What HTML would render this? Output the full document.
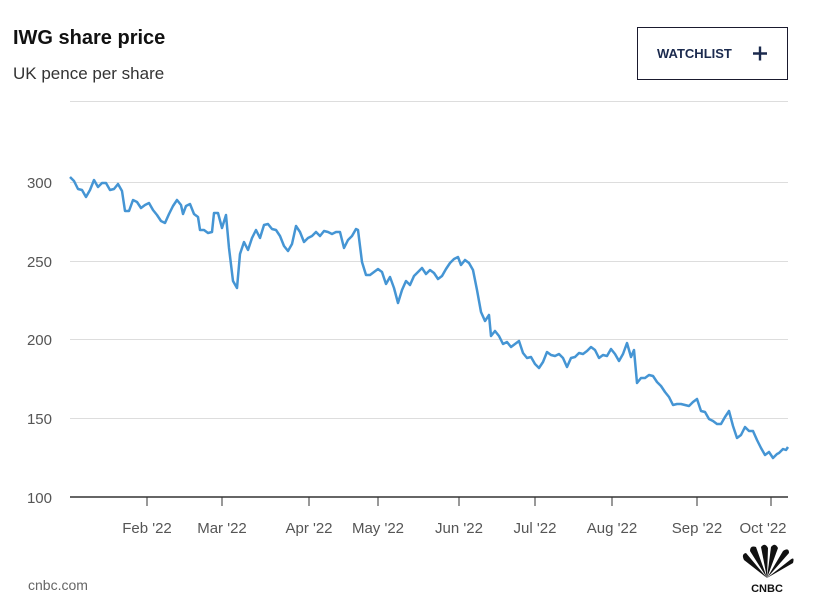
<!DOCTYPE html>
<html><head><style>
body{margin:0;background:#fff;font-family:"Liberation Sans",sans-serif;}
svg{display:block}
</style></head><body>
<svg width="813" height="615" viewBox="0 0 813 615" xmlns="http://www.w3.org/2000/svg">
<text x="13" y="44" font-size="20" font-weight="bold" fill="#111">IWG share price</text>
<text x="13" y="79" font-size="17" fill="#333">UK pence per share</text>
<rect x="637.5" y="27.5" width="150" height="52" fill="#fff" stroke="#1a1a2e" stroke-width="1"/>
<text x="657" y="58" font-size="13" font-weight="bold" fill="#1b2a4e">WATCHLIST</text>
<path d="M753 53.5h14M760 46.5v14" stroke="#1b2a4e" stroke-width="2.4"/>
<line x1="70" y1="101.5" x2="788" y2="101.5" stroke="#ddd"/>
<g stroke="#ddd" stroke-width="1">
<line x1="70" y1="182.5" x2="788" y2="182.5"/>
<line x1="70" y1="261.5" x2="788" y2="261.5"/>
<line x1="70" y1="339.5" x2="788" y2="339.5"/>
<line x1="70" y1="418.5" x2="788" y2="418.5"/>
</g>
<line x1="70" y1="497" x2="788" y2="497" stroke="#333" stroke-width="1.5"/>
<g font-size="15" fill="#555" text-anchor="end">
<text x="52" y="188">300</text><text x="52" y="267">250</text><text x="52" y="345">200</text><text x="52" y="424">150</text><text x="52" y="503">100</text>
</g>
<g stroke="#333" stroke-width="1">
<line x1="147" y1="497" x2="147" y2="506"/><line x1="222" y1="497" x2="222" y2="506"/><line x1="309" y1="497" x2="309" y2="506"/><line x1="378" y1="497" x2="378" y2="506"/><line x1="459" y1="497" x2="459" y2="506"/><line x1="535" y1="497" x2="535" y2="506"/><line x1="612" y1="497" x2="612" y2="506"/><line x1="697" y1="497" x2="697" y2="506"/><line x1="771" y1="497" x2="771" y2="506"/>
</g>
<g font-size="15" fill="#555" text-anchor="middle">
<text x="147" y="533">Feb '22</text><text x="222" y="533">Mar '22</text><text x="309" y="533">Apr '22</text><text x="378" y="533">May '22</text><text x="459" y="533">Jun '22</text><text x="535" y="533">Jul '22</text><text x="612" y="533">Aug '22</text><text x="697" y="533">Sep '22</text><text x="763" y="533">Oct '22</text>
</g>
<polyline fill="none" stroke="#4595d4" stroke-width="2.5" stroke-linejoin="round" points="70,177 74,181 78,189 82,190 86,197 90,190 94,180 98,187 102,183 106,183 110,190 114,189 118,184 122,191 125,211 129,211 133,200 137,202 141,208 145,205 149,203 153,210 157,215 161,221 165,223 169,214 173,206 177,200 181,205 183,214 186,206 190,204 194,214 198,217 200,230 204,230 208,233 212,232 214,213 218,213 222,228 226,215 229,248 233,281 237,288 240,254 244,242 248,250 252,238 256,230 260,238 264,225 268,224 272,229 276,230 280,236 284,246 288,251 292,244 296,226 300,232 304,242 308,238 312,236 316,232 320,236 324,231 328,232 332,234 336,232 340,232 344,248 348,240 352,236 356,229 358,230 362,262 366,275 370,275 374,272 378,269 382,272 386,284 390,277 394,288 398,303 402,290 406,281 410,285 414,276 418,272 422,268 426,274 430,270 434,273 438,279 442,276 446,269 450,263 454,259 458,257 461,265 465,260 469,263 473,270 477,290 481,312 485,321 489,315 491,336 495,331 499,336 503,344 507,342 511,347 515,344 519,341 523,353 527,358 531,357 535,364 539,368 543,362 547,352 551,355 555,356 559,354 563,358 567,367 571,358 575,357 579,353 583,354 587,351 591,347 595,350 599,358 603,355 607,356 611,349 615,354 619,361 623,354 627,343 631,357 634,350 637,383 641,378 645,378 649,375 653,376 657,382 661,386 665,392 669,397 673,405 677,404 681,404 685,405 689,406 693,402 697,399 701,411 705,412 709,419 713,421 717,424 721,424 725,417 729,411 733,426 737,438 741,435 745,427 749,431 753,431 757,440 761,448 765,455 769,452 773,458 777,454 779,453 783,449 786,450 788,447"/>
<text x="28" y="590" font-size="14" fill="#666">cnbc.com</text>
<g fill="#111">
<path d="M767 578 L744 560 Q741 554 746 553 Z"/>
<path d="M767 578 L750 551 Q750 545 756 547 Z"/>
<path d="M767 578 L761 547 Q765 542 768 548 Z"/>
<path d="M767 578 L771 547 Q775 542 778 548 Z"/>
<path d="M767 578 L783 551 Q789 547 789 553 Z"/>
<path d="M767 578 L790 560 Q795 556 793 563 Z"/>
</g>
<text x="767" y="592" font-size="11" font-weight="bold" fill="#111" text-anchor="middle">CNBC</text>
</svg>
</body></html>
